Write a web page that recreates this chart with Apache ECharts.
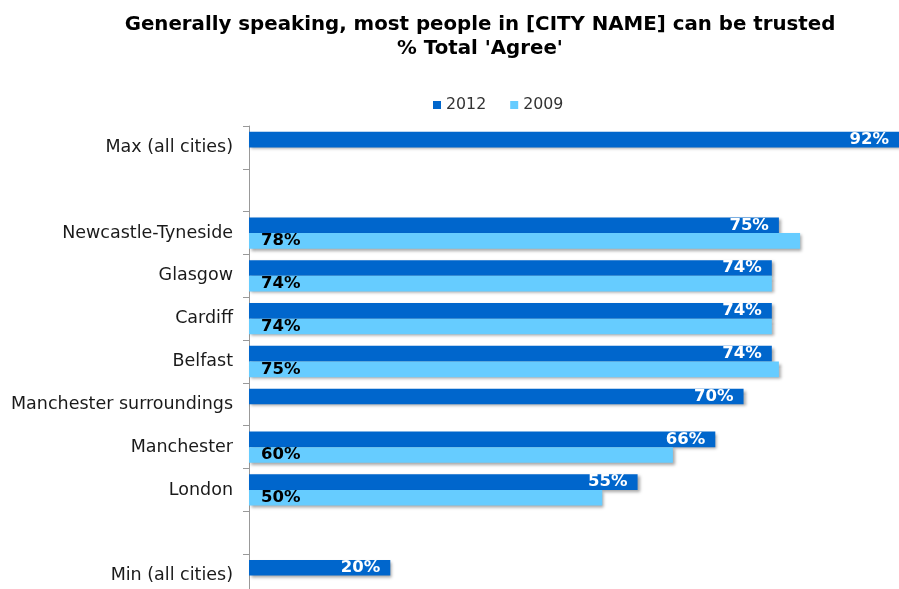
<!DOCTYPE html>
<html>
<head>
<meta charset="utf-8">
<script src="https://cdn.jsdelivr.net/npm/echarts@6/dist/echarts.min.js"></script>
<style>
  html, body { margin: 0; padding: 0; background: #fff; overflow: hidden; }
  /* the canvas runs a few pixels past the window so the last row is cut at the edge */
  #chart { width: 899px; height: 597px; }
</style>
</head>
<body>
<div id="chart"></div>
<script>
// Categories, top to bottom (blank rows are spacers)
const categories = [
  'Max (all cities)', ' ', 'Newcastle-Tyneside', 'Glasgow', 'Cardiff', 'Belfast',
  'Manchester surroundings', 'Manchester', 'London', '  ', 'Min (all cities)'
];
// % Total 'Agree'
const values2012 = [92, null, 75, 74, 74, 74, 70, 66, 55, null, 20];
const values2009 = [null, null, 78, 74, 74, 75, null, 60, 50, null, null];
const seriesNames = ['2012', '2009'];

const font = 'Verdana, "DejaVu Sans", sans-serif';
const shadow = {
  shadowColor: 'rgba(0,0,0,0.35)',
  shadowBlur: 3,
  shadowOffsetX: 2,
  shadowOffsetY: 2
};

const chart = echarts.init(document.getElementById('chart'), null, { renderer: 'canvas' });
chart.setOption({
  animation: false,
  backgroundColor: '#ffffff',
  title: {
    text: "Generally speaking, most people in [CITY NAME] can be trusted\n% Total 'Agree'",
    left: 475,
    textAlign: 'center',
    top: 8,
    textStyle: {
      fontFamily: font,
      fontWeight: 'bold',
      fontSize: 19.8,
      lineHeight: 24,
      color: '#000'
    }
  },
  legend: {
    data: seriesNames,
    top: 92,
    left: 428,
    itemWidth: 8,
    itemHeight: 8,
    itemGap: 24,
    icon: 'rect',
    textStyle: { fontFamily: font, fontSize: 15.8, color: '#333' }
  },
  grid: {
    left: 249,
    right: 0,
    top: 126,
    bottom: 0,
    containLabel: false
  },
  xAxis: {
    type: 'value',
    min: 0,
    max: 92,
    show: false
  },
  yAxis: {
    type: 'category',
    data: categories,
    inverse: true,
    axisLine: { show: true, lineStyle: { color: '#999', width: 1 } },
    axisTick: { show: true, length: 6, lineStyle: { color: '#999' } },
    axisLabel: {
      fontFamily: font,
      fontSize: 17.5,
      color: '#1a1a1a',
      margin: 16,
      padding: [4, 0, 0, 0]
    },
    splitLine: { show: false }
  },
  series: [
    {
      name: seriesNames[0],
      type: 'bar',
      data: values2012,
      barGap: '0%',
      barCategoryGap: '27%',
      itemStyle: Object.assign({ color: '#0066CC' }, shadow),
      label: {
        show: true,
        position: 'insideRight',
        distance: 10,
        formatter: '{c}%',
        fontFamily: font,
        fontWeight: 'bold',
        fontSize: 16.5,
        color: '#fff'
      }
    },
    {
      name: seriesNames[1],
      type: 'bar',
      data: values2009,
      barGap: '0%',
      barCategoryGap: '27%',
      itemStyle: Object.assign({ color: '#66CCFF' }, shadow),
      label: {
        show: true,
        position: 'insideLeft',
        distance: 12,
        formatter: '{c}%',
        fontFamily: font,
        fontWeight: 'bold',
        fontSize: 16.5,
        color: '#000'
      }
    }
  ]
});
</script>
</body>
</html>
